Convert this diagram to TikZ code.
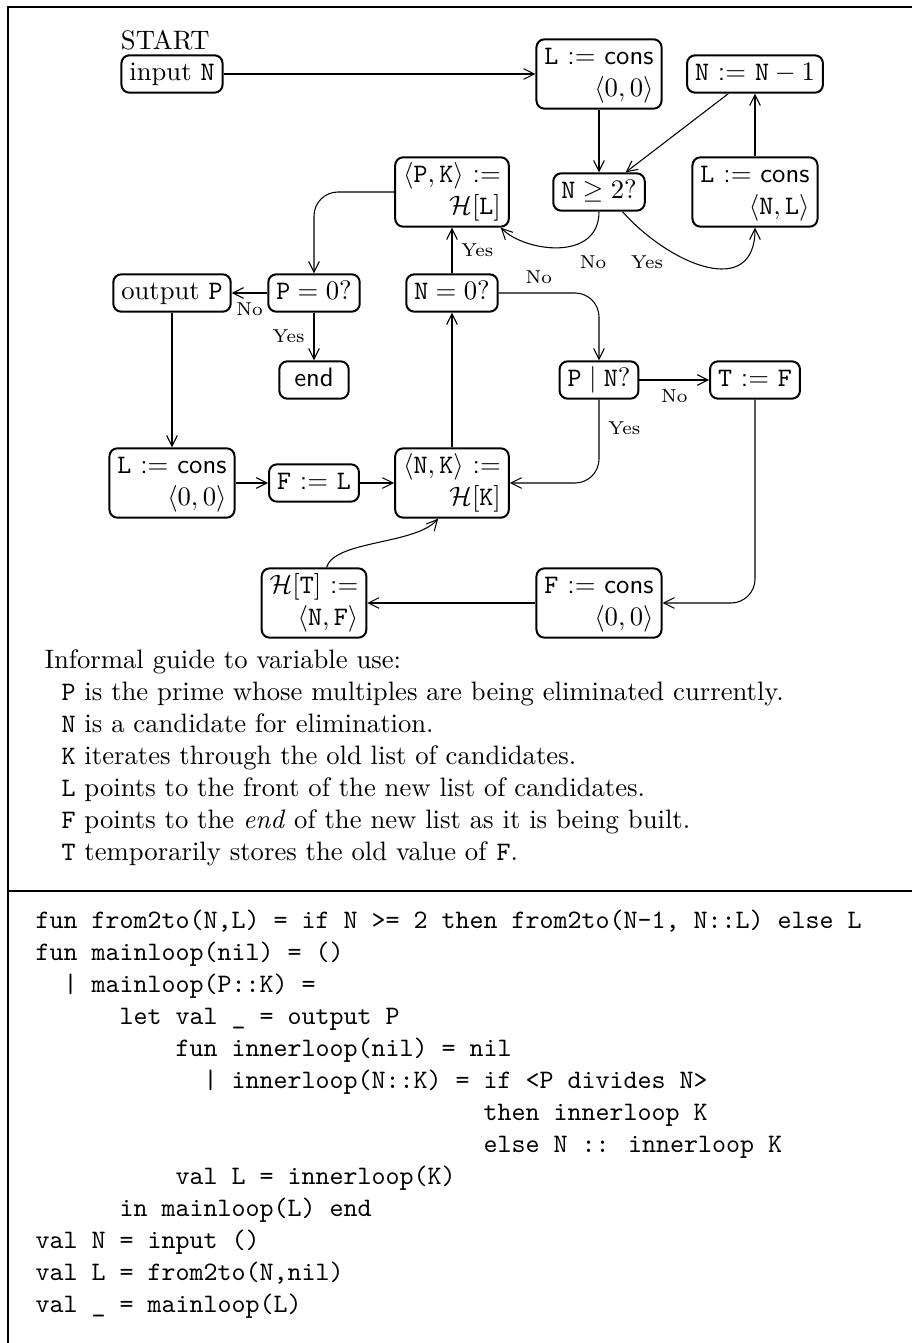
\documentclass[tikz,border=0pt]{standalone}
\usepackage{amsmath}
\usepackage{tikz}
\usetikzlibrary{arrows.meta}
\newcommand{\tv}[1]{\texttt{#1}}
\newcommand{\asgn}{\ \textsf{:=}\ }
\newcommand{\Hs}{\mathcal{H}}
\newcommand{\twoline}[2]{\begin{tabular}{@{}l@{}}#1\\\hfill#2\end{tabular}}
\newcommand{\ind}[1]{\hspace*{#1\dimexpr 5.25pt\relax}}
\tikzset{
	flowbox/.style={draw,rounded corners=3pt,line width=0.75pt,inner xsep=3pt,inner ysep=1pt,execute at begin node=\strut},
	flowarrow/.style={line width=0.4pt,-{Straight Barb[length=4pt,width=4pt]}},
	branch/.style={font=\scriptsize},
	frameline/.style={line width=0.9pt}
}

\begin{document}
\begin{tikzpicture}[x=0.375pt,y=-0.375pt]
					\useasboundingbox (0,0) rectangle (912,1343);
					\draw[frameline] (912,7) -- (8,7) -- (8,1343);
					\draw[frameline] (8,891) -- (912,891);
					\node[flowbox] (input) at (172,74) {input \tv{N}};
					\node[anchor=base west,inner sep=0] (start) at ([yshift=1.9pt]input.north west) {START};
					\node[flowbox] (consA) at (599,74)
						{\twoline{\tv{L}\asgn\textsf{cons}}{$\langle 0,0\rangle$}};
					\node[flowbox] (decN) at (755,74) {\tv{N}\asgn$\tv{N}-1$};
					\node[flowbox] (testTwo) at (599,192) {$\tv{N}\geq 2$?};
					\node[flowbox] (consNL) at (755,192)
						{\twoline{\tv{L}\asgn\textsf{cons}}{$\langle\tv{N},\tv{L}\rangle$}};
					\node[flowbox] (getPK) at (452,192)
						{\twoline{$\langle\tv{P},\tv{K}\rangle$\asgn}{$\Hs[\tv{L}]$}};
					\node[flowbox] (testNzero) at (452,293) {$\tv{N}=0$?};
					\node[flowbox] (output) at (172,293) {output \tv{P}};
					\node[flowbox] (testPzero) at (314,293) {$\tv{P}=0$?};
					\node[flowbox,minimum width=26pt] (stop) at (314,380) {\textsf{end}};
					\node[flowbox] (testDiv) at (599,380) {$\tv{P}\mid\tv{N}$?};
					\node[flowbox] (setT) at (755,380) {\tv{T}\asgn\tv{F}};
					\node[flowbox] (consB) at (172,483)
						{\twoline{\tv{L}\asgn\textsf{cons}}{$\langle 0,0\rangle$}};
					\node[flowbox] (setF) at (314,483) {\tv{F}\asgn\tv{L}};
					\node[flowbox] (getNK) at (452,483)
						{\twoline{$\langle\tv{N},\tv{K}\rangle$\asgn}{$\Hs[\tv{K}]$}};
					\node[flowbox] (storeH) at (314,603)
						{\twoline{$\Hs[\tv{T}]$\asgn}{$\langle\tv{N},\tv{F}\rangle$}};
					\node[flowbox] (consF) at (599,603)
						{\twoline{\tv{F}\asgn\textsf{cons}}{$\langle 0,0\rangle$}};
					\draw[flowarrow] (input) -- (consA);
					\draw[flowarrow] (consA) -- (testTwo);
					\draw[flowarrow] ([xshift=-10pt]decN.south) -- ([xshift=10pt]testTwo.north);
					\draw[flowarrow] (consNL) -- (decN);
					\draw[flowarrow] (testTwo.south) .. controls (599,262) and (525,252) .. ([xshift=-3.4pt]getPK.south east);
					\draw[flowarrow] (testTwo.-40) .. controls (670,265) and (755,300) .. (consNL.south);
					\node[branch] (noTwo) at (593,262) {No};
					\node[branch] (yesTwo) at (647,262) {Yes};
					\draw[flowarrow,rounded corners=9pt] (getPK.west) -| (testPzero.north);
					\draw[flowarrow] (testPzero) -- node[branch,below] (noP) {No} (output);
					\draw[flowarrow] (testPzero) -- node[branch,left] (yesP) {Yes} (stop);
					\draw[flowarrow] (output) -- (consB);
					\draw[flowarrow] (consB) -- (setF);
					\draw[flowarrow] (setF) -- (getNK);
					\draw[flowarrow] (getNK) -- (testNzero);
					\draw[flowarrow] (testNzero) -- node[branch,right] (yesN) {Yes} (getPK);
					\draw[flowarrow,rounded corners=9pt] (testNzero.east) -| node[branch,pos=0.2,above] (noN) {No} (testDiv.north);
					\draw[flowarrow] (testDiv) -- node[branch,below] (noDiv) {No} (setT);
					\draw[flowarrow,rounded corners=9pt] (testDiv.south) |- node[branch,pos=0.17,right] (yesDiv) {Yes} (getNK.east);
					\draw[flowarrow,rounded corners=9pt] (setT.south) |- (consF.east);
					\draw[flowarrow] (consF) -- (storeH);
					\draw[flowarrow] ([xshift=4.7pt]storeH.north) .. controls (335,540) and (415,545) .. ([xshift=-5.2pt]getNK.south);
					\node[anchor=north west,inner sep=0,align=left] (guide) at (44,649)
						{Informal guide to variable use:\\
						\hspace*{6.4pt}\tv{P} is the prime whose multiples are being eliminated currently.\\
						\hspace*{6.4pt}\tv{N} is a candidate for elimination.\\
						\hspace*{6.4pt}\tv{K} iterates through the old list of candidates.\\
						\hspace*{6.4pt}\tv{L} points to the front of the new list of candidates.\\
						\hspace*{6.4pt}\tv{F} points to the \emph{end} of the new list as it is being built.\\
						\hspace*{6.4pt}\tv{T} temporarily stores the old value of \tv{F}.};
					\node[anchor=north west,inner sep=0,align=left,font=\ttfamily] (code) at (35,909)
						{fun from2to(N,L) = if N >= 2 then from2to(N-1, N::L) else L\\
						fun mainloop(nil) = ()\\
						\ind{2}| mainloop(P::K) =\\
						\ind{6}let val \_ = output P\\
						\ind{10}fun innerloop(nil) = nil\\
						\ind{12}| innerloop(N::K) = if <P divides N>\\
						\ind{32}then innerloop K\\
						\ind{32}else N :: innerloop K\\
						\ind{10}val L = innerloop(K)\\
						\ind{6}in mainloop(L) end\\
						val N = input ()\\
						val L = from2to(N,nil)\\
						val \_ = mainloop(L)};
				\end{tikzpicture}
\end{document}
